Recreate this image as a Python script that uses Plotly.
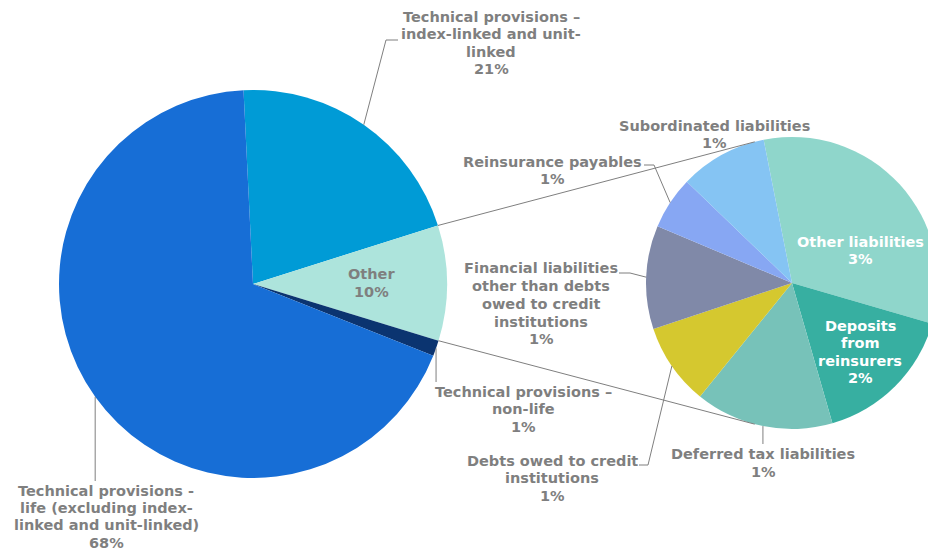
import math
import plotly.graph_objects as go

# ---- data -------------------------------------------------------------
main_labels = [
    "Technical provisions – index-linked and unit-linked",
    "Other",
    "Technical provisions – non-life",
    "Technical provisions - life (excluding index-linked and unit-linked)",
]
main_values = [20.9, 9.6, 1.3, 68.2]
main_colors = ["#009BD6", "#ADE4DC", "#0B3470", "#176ED6"]

other_labels = [
    "Other liabilities",
    "Deposits from reinsurers",
    "Deferred tax liabilities",
    "Debts owed to credit institutions",
    "Financial liabilities other than debts owed to credit institutions",
    "Reinsurance payables",
    "Subordinated liabilities",
]
other_values = [3.13, 1.54, 1.47, 0.87, 1.10, 0.56, 0.93]
other_colors = ["#8FD6CB", "#37AFA1", "#77C2B9", "#D5C82F", "#8089A8", "#87A7F3", "#85C4F3"]

# wrapped label text (percent line is appended from the values)
main_text_lines = [
    ["Technical provisions –", "index-linked and unit-", "linked"],
    ["Other"],
    ["Technical provisions –", "non-life"],
    ["Technical provisions -", "life (excluding index-", "linked and unit-linked)"],
]
other_text_lines = [
    ["Other liabilities"],
    ["Deposits", "from", "reinsurers"],
    ["Deferred tax liabilities"],
    ["Debts owed to credit", "institutions"],
    ["Financial liabilities", "other than debts", "owed to credit", "institutions"],
    ["Reinsurance payables"],
    ["Subordinated liabilities"],
]

# ---- layout geometry (pixels) -----------------------------------------
FIG_W, FIG_H = 938, 551
MAIN_C, MAIN_R, MAIN_ROT = (253, 284), 194, -2.8
SUB_C, SUB_R, SUB_ROT = (792, 283), 146, -11.2

GRAY = "#7F7F7F"
FONT = "DejaVu Sans"
FS = 14.5


def px(x, y):
    return x / FIG_W, 1 - y / FIG_H


def domain(c, r):
    return dict(x=[(c[0] - r) / FIG_W, min(1.0, (c[0] + r) / FIG_W)],
                y=[(FIG_H - c[1] - r) / FIG_H, (FIG_H - c[1] + r) / FIG_H])


def slice_angles(values, rot):
    tot = sum(values)
    out, a = [], rot
    for v in values:
        b = a + 360 * v / tot
        out.append((a, b))
        a = b
    return out


def on_circle(c, r, ang):
    t = math.radians(ang)
    return c[0] + r * math.sin(t), c[1] - r * math.cos(t)


main_total = sum(main_values)
main_pct = [f"{math.floor(v / main_total * 100 + 0.5)}%" for v in main_values]
other_pct = [f"{math.floor(v / main_total * 100 + 0.5)}%" for v in other_values]

fig = go.Figure()
fig.add_trace(go.Pie(
    labels=main_labels, values=main_values, sort=False, direction="clockwise",
    rotation=MAIN_ROT, marker=dict(colors=main_colors, line=dict(width=0)),
    textinfo="none", hoverinfo="label+percent", domain=domain(MAIN_C, MAIN_R),
    showlegend=False,
))
fig.add_trace(go.Pie(
    labels=other_labels, values=other_values, sort=False, direction="clockwise",
    rotation=SUB_ROT, marker=dict(colors=other_colors, line=dict(width=0)),
    textinfo="none", hoverinfo="label+value", domain=domain(SUB_C, SUB_R),
    showlegend=False,
))

main_ang = slice_angles(main_values, MAIN_ROT)
sub_ang = slice_angles(other_values, SUB_ROT)


def seg(p, q, color=GRAY, width=1):
    x0, y0 = px(*p)
    x1, y1 = px(*q)
    fig.add_shape(type="line", xref="paper", yref="paper", x0=x0, y0=y0, x1=x1, y1=y1,
                  line=dict(color=color, width=width))


def polyline(pts):
    for p, q in zip(pts[:-1], pts[1:]):
        seg(p, q)


# connectors from the "Other" slice to the breakdown pie (tangent lines)
def tangent(p, c, r, upper):
    dx, dy = p[0] - c[0], p[1] - c[1]
    d = math.hypot(dx, dy)
    th = math.degrees(math.atan2(dx, -dy))
    al = math.degrees(math.acos(r / d))
    return on_circle(c, r, th + al if upper else th - al)


o_start, o_end = main_ang[1]
p_top = on_circle(MAIN_C, MAIN_R, o_start)
p_bot = on_circle(MAIN_C, MAIN_R, o_end)
seg(p_top, tangent(p_top, SUB_C, SUB_R, True))
seg(p_bot, tangent(p_bot, SUB_C, SUB_R, False))


def mid(c, r, a):
    return on_circle(c, r, (a[0] + a[1]) / 2)


# leader lines: slice mid point -> elbow / label edge
m = mid(MAIN_C, MAIN_R, main_ang[0])
polyline([m, (386, 40), (398, 40)])
m = mid(MAIN_C, MAIN_R, main_ang[2])
polyline([m, (m[0], 382)])
m = mid(MAIN_C, MAIN_R, main_ang[3])
polyline([m, (m[0], 481)])
m = mid(SUB_C, SUB_R, sub_ang[5])
polyline([m, (654, 165), (644, 165)])
m = mid(SUB_C, SUB_R, sub_ang[4])
polyline([m, (630, 273), (619, 273)])
m = mid(SUB_C, SUB_R, sub_ang[3])
polyline([m, (648, 465), (639, 465)])
m = mid(SUB_C, SUB_R, sub_ang[2])
polyline([m, (m[0], 444)])


def label(lines, x, y0, dy, color=GRAY):
    for i, t in enumerate(lines):
        ax, ay = px(x, y0 + i * dy)
        fig.add_annotation(x=ax, y=ay, xref="paper", yref="paper", text=t, showarrow=False,
                           xanchor="center", yanchor="middle",
                           font=dict(family=FONT, size=FS, color=color, weight="bold"))


label(main_text_lines[0] + [main_pct[0]], 491, 17, 17.3)
label(main_text_lines[1] + [main_pct[1]], 371, 274, 18)
label(main_text_lines[2] + [main_pct[2]], 523, 391.7, 17.5)
label(main_text_lines[3] + [main_pct[3]], 106, 490.5, 17.4)

label(other_text_lines[0] + [other_pct[0]], 860, 242.3, 17, "white")
label(other_text_lines[1] + [other_pct[1]], 860, 325.7, 17.5, "white")
label(other_text_lines[2] + [other_pct[2]], 763, 454, 17.7)
label(other_text_lines[3] + [other_pct[3]], 552, 460.7, 17.6)
label(other_text_lines[4] + [other_pct[4]], 541, 268.3, 17.75)
label(other_text_lines[5] + [other_pct[5]], 552.5, 161.7, 17.6)
label(other_text_lines[6] + [other_pct[6]], 714, 125.7, 17.6)

fig.update_layout(
    width=FIG_W, height=FIG_H, margin=dict(l=0, r=0, t=0, b=0),
    paper_bgcolor="white", plot_bgcolor="white",
    font=dict(family=FONT, size=FS, color=GRAY),
)
fig.write_html("out.html")
